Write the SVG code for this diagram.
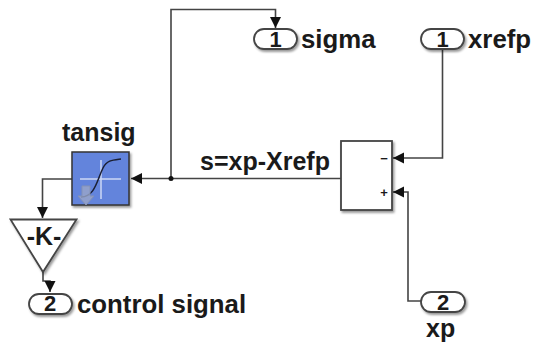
<svg xmlns="http://www.w3.org/2000/svg" width="534" height="343" viewBox="0 0 534 343">
<defs>
<marker id="a" markerUnits="userSpaceOnUse" markerWidth="13" markerHeight="13" refX="11" refY="5.5" orient="auto"><path d="M0 0L11 5.5L0 11z" fill="#111"/></marker>
<filter id="s" x="-20%" y="-20%" width="150%" height="160%"><feDropShadow dx="1.5" dy="2" stdDeviation="1.2" flood-color="#000" flood-opacity=".4"/></filter>
</defs>
<style>
text{font-family:"Liberation Sans",Arial,sans-serif;font-weight:700;fill:#1a1a1a}
.l{font-size:25px}
.w{font-size:25.800px}
.n{font-size:22px;text-anchor:middle;font-weight:700}
.c{fill:none;stroke:#444;stroke-width:1.6}
.b{fill:#fff;stroke:#444;stroke-width:1.8;filter:url(#s)}
</style>
<rect width="534" height="343" fill="#fff"/>
<g id="connectors">
<path class="c" marker-end="url(#a)" d="M341 178.500H131"/>
<path class="c" marker-end="url(#a)" d="M171 178.500V9.500H275.500V28"/>
<path class="c" marker-end="url(#a)" d="M442.500 50V158H393"/>
<path class="c" marker-end="url(#a)" d="M421 301H408V192H393"/>
<path class="c" marker-end="url(#a)" d="M72 179H42.500V218"/>
<path class="c" marker-end="url(#a)" d="M43 272V281H50V292"/>
<circle cx="171" cy="178.500" r="2.500" fill="#111"/>
</g>
<g id="sigma"><rect class="b" x="254" y="29" width="43" height="20" rx="10"/><text class="n" x="275.500" y="47">1</text><text class="w" x="301" y="48">sigma</text></g>
<g id="xrefp"><rect class="b" x="421" y="29" width="43" height="20" rx="10"/><text class="n" x="442.500" y="47">1</text><text class="w" x="468" y="48">xrefp</text></g>
<g id="sum"><rect class="b" x="341" y="141" width="51" height="69"/><text x="384" y="163" font-size="13" text-anchor="middle">−</text><text x="384" y="197" font-size="13" text-anchor="middle">+</text><text class="l" x="200" y="170">s=xp-Xrefp</text></g>
<g id="xp"><rect class="b" x="421" y="292" width="44" height="20" rx="10"/><text class="n" x="443" y="310">2</text><text class="l" x="426" y="337">xp</text></g>
<g id="tansig">
<text class="l" x="62" y="141">tansig</text>
<rect x="72" y="152" width="57" height="53" fill="#6484dc" stroke="#333" stroke-width="1.500" filter="url(#s)"/>
<path d="M80 179H121M101 160V199" stroke="#cdd8f5" stroke-width="1.500" fill="none"/>
<path d="M81 197C95 197 97 180 103 168C107 160 113 160 121 159" fill="none" stroke="#1a1f33" stroke-width="1.500"/>
<path d="M82 186H90V196H94L86 205L78 196H82z" fill="#9aa6c8" fill-opacity=".8" stroke="#8592b5"/>
</g>
<g id="gain"><path class="b" d="M10.500 219.500H76.500L43 272z"/><text x="44" y="245" font-size="25" text-anchor="middle">-K-</text></g>
<g id="control-signal"><rect class="b" x="29" y="294" width="43" height="20" rx="10"/><text class="n" x="50" y="311">2</text><text class="w" x="77" y="313">control signal</text></g>
</svg>
